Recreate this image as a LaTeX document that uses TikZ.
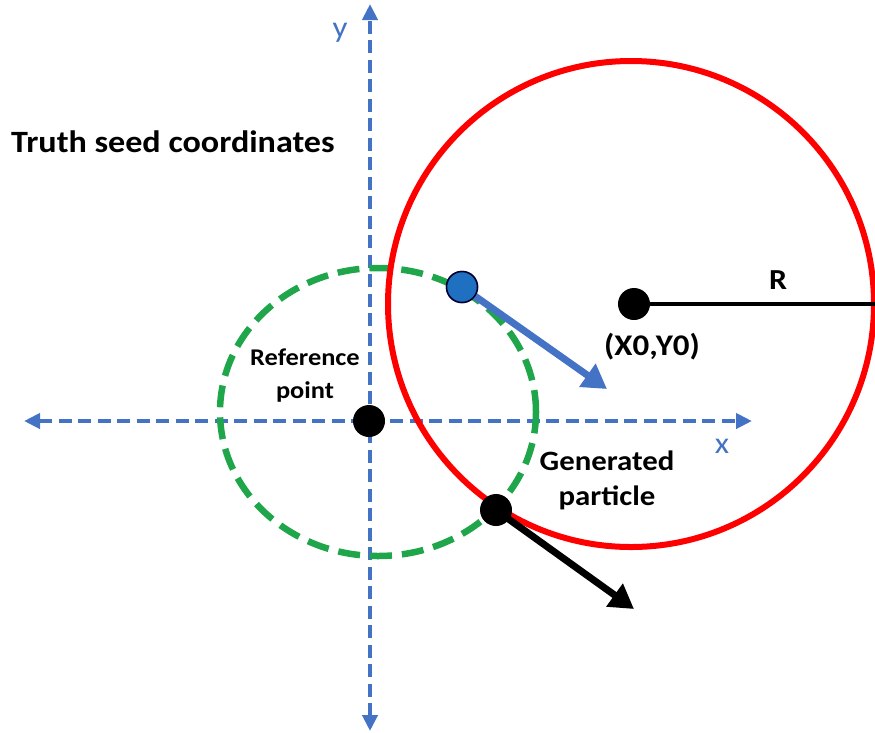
\documentclass[tikz,border=0pt]{standalone}
\usepackage{fontspec}
\setmainfont{Carlito}[FakeStretch=1.1]
\usetikzlibrary{arrows.meta}
\definecolor{axisblue}{HTML}{4472C4}
\definecolor{dgreen}{HTML}{1FA64A}
\definecolor{cred}{HTML}{FF0000}
\definecolor{dotblue}{HTML}{1F70C1}
\tikzset{
  axis/.style={axisblue, line width=4.2pt, dash pattern=on 13pt off 6.5pt, {Triangle[length=16pt,width=15pt]}-{Triangle[length=16pt,width=15pt]}},
  greendash/.style={dgreen, line width=6.5pt, dash pattern=on 22pt off 10pt},
  bigdot/.style={circle, fill=black, inner sep=0pt, minimum size=32pt},
  bluedot/.style={circle, fill=dotblue, draw=black!80!blue, line width=1.5pt, inner sep=0pt, minimum size=31pt},
  vecarrow/.style={line width=7pt, -{Triangle[length=24pt,width=27pt]}, shorten <=-2pt},
  lbl/.style={align=center, inner sep=0pt},
  axlbl/.style={text=axisblue, font=\fontsize{30}{32}\selectfont, inner sep=0pt}
}
\begin{document}
\begin{tikzpicture}[x=1pt,y=-1pt]
\useasboundingbox (0,0) rectangle (875,732);
% axes
\coordinate (ytop) at (370,4);
\coordinate (ybot) at (370,731);
\coordinate (xl) at (24,421);
\coordinate (xr) at (752,421);
\draw[axis] (ybot) -- (ytop);
\draw[axis] (xl) -- (xr);
\node[axlbl] (ylab) at (340,33) {y};
\node[axlbl] (xlab) at (722,446) {x};
% green dashed circle
\draw[greendash] (378,412) ellipse [x radius=158pt, y radius=144pt];
% red circle
\draw[cred, line width=6pt] (631,304) circle [radius=243pt];
% points
\node[bigdot] (center) at (634,304) {};
\coordinate (redright) at (875,304);
\draw[line width=4pt] (center) -- (redright);
\coordinate (btip) at (607,389);
\coordinate (gtip) at (634,609);
\node[bluedot] (bdot) at (462,287) {};
\draw[vecarrow, axisblue] (bdot.center) -- (btip);
\node[bluedot] at (bdot) {};
\node[bigdot] (ref) at (369,421) {};
\node[bigdot] (gen) at (496,510) {};
\draw[vecarrow, black] (gen.center) -- (gtip);
% labels
\node[lbl, anchor=west, font=\bfseries\fontsize{31}{34}\selectfont] (title) at (11,142) {Truth seed coordinates};
\node[lbl, font=\bfseries\fontsize{24}{33}\selectfont] (reflab) at (305,376) {Reference\\point};
\node[lbl, font=\bfseries\fontsize{30}{32}\selectfont] (xylab) at (652,347) {(X0,Y0)};
\node[lbl, font=\bfseries\fontsize{29}{30}\selectfont] (rlab) at (778,280) {R};
\node[lbl, font=\bfseries\fontsize{28}{35}\selectfont] (genlab) at (607,480) {Generated\\particle};
\end{tikzpicture}
\end{document}
